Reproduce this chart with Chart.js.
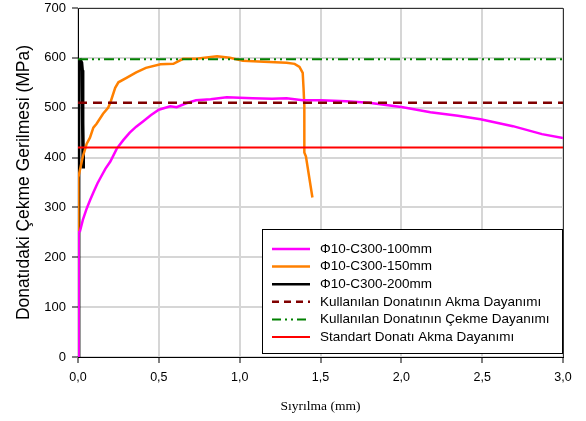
<!DOCTYPE html>
<html>
<head>
<meta charset="utf-8">
<script src="https://cdn.jsdelivr.net/npm/chart.js@4.4.1/dist/chart.umd.min.js"></script>
<style>
html,body{margin:0;padding:0;background:#fff;}
#wrap{width:586px;height:421px;position:relative;}
</style>
</head>
<body>
<div id="wrap"><canvas id="c" width="586" height="421"></canvas></div>
<script>
// ---- data ----
const seriesLabels = [
  "\u03A610-C300-100mm",
  "\u03A610-C300-150mm",
  "\u03A610-C300-200mm",
  "Kullan\u0131lan Donat\u0131n\u0131n Akma Dayan\u0131m\u0131",
  "Kullan\u0131lan Donat\u0131n\u0131n \u00C7ekme Dayan\u0131m\u0131",
  "Standart Donat\u0131 Akma Dayan\u0131m\u0131"
];
const xTicks = [0, 0.5, 1.0, 1.5, 2.0, 2.5, 3.0];
const yTicks = [0, 100, 200, 300, 400, 500, 600, 700];

const magentaX = [0, 0.004, 0.012, 0.03, 0.054, 0.075, 0.095, 0.12, 0.14, 0.17, 0.2, 0.24, 0.28, 0.32, 0.36, 0.4, 0.45, 0.5, 0.57, 0.61, 0.67, 0.73, 0.82, 0.92, 1.0, 1.08, 1.2, 1.29, 1.39, 1.5, 1.66, 1.8, 1.87, 2.01, 2.18, 2.35, 2.49, 2.69, 2.87, 3.0];
const magentaY = [0, 250, 252, 275, 298, 315, 330, 348, 360, 378, 392, 418, 435, 450, 462, 472, 485, 496, 503, 501, 509, 515, 517, 521, 520, 519, 518, 519, 515, 515, 513, 510, 507, 501, 491, 484, 477, 463, 447, 439];

const orangeX = [0, 0.002, 0.03, 0.054, 0.074, 0.095, 0.115, 0.155, 0.186, 0.2, 0.23, 0.25, 0.3, 0.36, 0.42, 0.51, 0.59, 0.65, 0.73, 0.86, 0.94, 1.02, 1.15, 1.29, 1.34, 1.37, 1.39, 1.395, 1.4, 1.4, 1.41, 1.45];
const orangeY = [0, 360, 402, 428, 440, 460, 468, 488, 500, 510, 540, 551, 560, 571, 580, 587, 588, 598, 598, 603, 600, 594, 592, 590, 588, 582, 570, 540, 503, 410, 402, 320];

const blackX = [0, 0.002, 0.004, 0.006, 0.01, 0.016, 0.022, 0.026, 0.028, 0.03, 0.031, 0.033, 0.032];
const blackY = [0, 200, 450, 575, 592, 594, 590, 575, 530, 470, 420, 390, 378];

const refX = [0, 3.0];
const akmaY = [510, 510];
const cekmeY = [597, 597];
const standartY = [420, 420];

function pts(xs, ys){ return xs.map((x,i)=>({x:x, y:ys[i]})); }

const datasets = [
  {label: seriesLabels[0], data: pts(magentaX, magentaY), borderColor:'#ff00ff', borderWidth:2.5, order:2},
  {label: seriesLabels[1], data: pts(orangeX, orangeY), borderColor:'#ff8000', borderWidth:2.5, order:2},
  {label: seriesLabels[2], data: pts(blackX, blackY), borderColor:'#000000', borderWidth:3.5, order:2},
  {label: seriesLabels[3], data: pts(refX, akmaY), borderColor:'#800000', borderWidth:2.5, borderDash:[9,6], order:1},
  {label: seriesLabels[4], data: pts(refX, cekmeY), borderColor:'#008000', borderWidth:2, borderDash:[10,4,2,4,2,4], order:1},
  {label: seriesLabels[5], data: pts(refX, standartY), borderColor:'#ff0000', borderWidth:2, order:1}
];
datasets.forEach(d=>{ d.showLine=true; d.pointRadius=0; d.fill=false; d.tension=0; });

const boxPlugin = {
  id:'box',
  afterDraw(chart){
    const ctx = chart.ctx, a = chart.chartArea;
    ctx.save();
    ctx.strokeStyle = '#333';
    ctx.lineWidth = 1;
    ctx.beginPath();
    ctx.moveTo(a.left, a.top+0.5); ctx.lineTo(a.right+0.5, a.top+0.5); ctx.lineTo(a.right+0.5, a.bottom);
    ctx.stroke();
    const lx = 262, ly = 229, lw = 300, lh = 124;
    ctx.fillStyle = '#fff';
    ctx.fillRect(lx, ly, lw, lh);
    ctx.strokeStyle = '#000';
    ctx.lineWidth = 1;
    ctx.strokeRect(lx+0.5, ly+0.5, lw, lh);
    ctx.font = '13.5px "Liberation Sans", Arial, sans-serif';
    ctx.textBaseline = 'middle';
    ctx.textAlign = 'left';
    chart.data.datasets.forEach((d,i)=>{
      const y = ly + 20 + i*17.6;
      ctx.beginPath();
      ctx.strokeStyle = d.borderColor;
      ctx.lineWidth = Math.min(d.borderWidth, 2.5);
      ctx.setLineDash(d.borderDash ? (i===3 ? [7,5] : [9,4,2,4,2,4]) : []);
      ctx.moveTo(272, y); ctx.lineTo(310, y);
      ctx.stroke();
      ctx.setLineDash([]);
      ctx.fillStyle = '#000';
      ctx.fillText(d.label, 320, y);
    });
    ctx.restore();
  }
};

new Chart(document.getElementById('c'), {
  type:'scatter',
  data:{datasets},
  plugins:[boxPlugin],
  options:{
    responsive:false,
    animation:false,
    layout:{padding:{top:8, right:23, left:0, bottom:0}},
    plugins:{legend:{display:false}, tooltip:{enabled:false}},
    scales:{
      x:{
        type:'linear', min:0, max:3,
        afterBuildTicks(s){ s.ticks = xTicks.map(v=>({value:v})); },
        afterFit(s){ s.height = 64; s.paddingLeft = 0; s.paddingRight = 0; },
        grid:{color:'#d6d6d6', lineWidth:2, drawTicks:true, tickLength:6, tickColor:'#000', tickWidth:1},
        border:{display:true, color:'#000', width:1},
        ticks:{color:'#000', font:{family:'"Liberation Sans", Arial, sans-serif', size:12.5}, padding:7, maxRotation:0,
          callback:(v)=>v.toFixed(1).replace('.', ',')},
        title:{display:true, text:'S\u0131yr\u0131lma (mm)', color:'#000', font:{family:'"Liberation Serif", "Times New Roman", serif', size:13.5}, padding:{top:0,bottom:6}}
      },
      y:{
        type:'linear', min:0, max:700,
        afterBuildTicks(s){ s.ticks = yTicks.map(v=>({value:v})); },
        afterFit(s){ s.width = 78; s.paddingTop = 0; s.paddingBottom = 0; },
        grid:{color:'#d6d6d6', lineWidth:2, drawTicks:true, tickLength:6, tickColor:'#000', tickWidth:1},
        border:{display:true, color:'#000', width:1},
        ticks:{color:'#000', font:{family:'"Liberation Sans", Arial, sans-serif', size:13}, padding:6},
        title:{display:true, text:'Donat\u0131daki \u00C7ekme Gerilmesi (MPa)', color:'#000', font:{family:'"Liberation Sans", Arial, sans-serif', size:17.5}, padding:{top:14,bottom:0}}
      }
    }
  }
});
</script>
</body>
</html>
